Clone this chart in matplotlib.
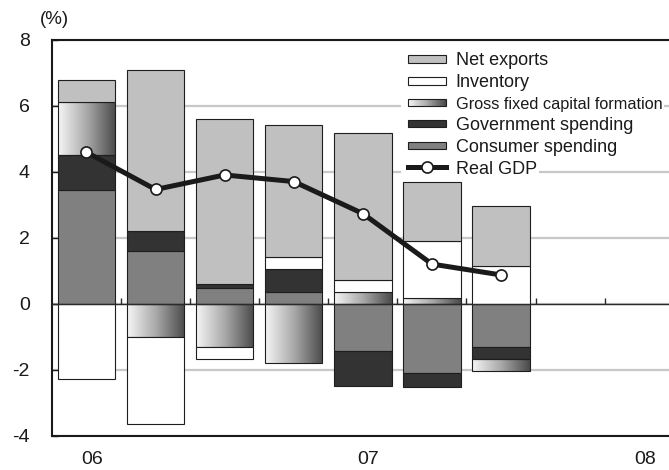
import numpy as np
import matplotlib
matplotlib.use("Agg")
import matplotlib.pyplot as plt
import matplotlib.transforms as mtrans
from matplotlib.colors import LinearSegmentedColormap
from matplotlib.legend_handler import HandlerBase
from matplotlib.patches import Rectangle
from matplotlib.lines import Line2D

plt.rcParams["font.family"] = ["Liberation Sans", "DejaVu Sans"]
plt.rcParams["axes.unicode_minus"] = False

# Contributions to real GDP growth, year-on-year (%), quarterly from 2006 Q1
quarters = ["06Q1", "06Q2", "06Q3", "06Q4", "07Q1", "07Q2", "07Q3"]
consumer = [3.46, 1.60, 0.49, 0.36, -1.41, -2.10, -1.29]
government = [1.05, 0.62, 0.13, 0.69, -1.06, -0.43, -0.38]
gfcf = [1.62, -0.99, -1.30, -1.80, 0.37, 0.19, -0.36]
inventory = [-2.28, -2.65, -0.38, 0.36, 0.36, 1.73, 1.15]
net_exports = [0.67, 4.88, 5.00, 4.02, 4.45, 1.77, 1.82]
real_gdp = [4.60, 3.47, 3.91, 3.71, 2.74, 1.21, 0.88]

year_labels = ["06", "07", "08"]
year_start_index = [0, 4, 8]
n_quarters_axis = 9
y_ticks = [-4, -2, 0, 2, 4, 6, 8]

EDGE = "#1e1e1e"
C_NX = "#c0c0c0"
C_INV = "#ffffff"
C_GOV = "#333333"
C_CONS = "#808080"
gfcf_cmap = LinearSegmentedColormap.from_list("gfcf", ["#f6f6f6", "#a9a9a9", "#4a4a4a"])

fig = plt.figure(figsize=(6.69, 4.70), dpi=100)
ax = fig.add_axes([51.9 / 669, 34 / 470, 621.9 / 669, 396 / 470])

x = np.arange(len(quarters))
bar_w = 0.83

series = [
    ("Consumer spending", consumer, C_CONS),
    ("Government spending", government, C_GOV),
    ("Gross fixed capital formation", gfcf, None),
    ("Inventory", inventory, C_INV),
    ("Net exports", net_exports, C_NX),
]

pos_base = np.zeros(len(x))
neg_base = np.zeros(len(x))
containers = {}
for name, vals, color in series:
    v = np.asarray(vals, dtype=float)
    bottoms = np.where(v >= 0, pos_base, neg_base)
    bars = ax.bar(x, v, width=bar_w, bottom=bottoms,
                  color=color if color else "none",
                  edgecolor=EDGE, linewidth=0.8, zorder=3)
    containers[name] = bars
    pos_base = pos_base + np.where(v > 0, v, 0)
    neg_base = neg_base + np.where(v < 0, v, 0)

# horizontal gradient fill for the capital formation segments
ramp = np.linspace(0, 1, 256).reshape(1, -1)
for patch in containers["Gross fixed capital formation"].patches:
    x0, y0 = patch.get_x(), patch.get_y()
    x1, y1 = x0 + patch.get_width(), y0 + patch.get_height()
    im = ax.imshow(ramp, cmap=gfcf_cmap, aspect="auto", interpolation="bilinear",
                   extent=[x0, x1, min(y0, y1), max(y0, y1)], zorder=2.9)
    im.set_clip_path(patch)

gdp_line, = ax.plot(x, real_gdp, color="#1a1a1a", lw=3.6, marker="o", ms=8,
                    mfc="white", mec="#1a1a1a", mew=1.2, zorder=6)

# zero line with small quarter separators
ax.axhline(0, color="#2a2a2a", lw=1.0, zorder=4)
bounds = np.arange(n_quarters_axis - 1) + 0.5
ax.plot(bounds, np.zeros_like(bounds), linestyle="none", marker=2, ms=4,
        mew=1.0, color="#2a2a2a", zorder=4)

ax.set_xlim(-0.5, n_quarters_axis - 0.5)
ax.set_ylim(-4, 8)

ax.set_yticks(y_ticks)
ax.set_yticklabels([str(t) for t in y_ticks])
ax.tick_params(axis="y", direction="in", length=4, width=1, pad=16,
               labelsize=14, colors="#1a1a1a")
ax.set_xticks(year_start_index)
ax.set_xticklabels(year_labels)
ax.tick_params(axis="x", length=0, pad=11, labelsize=14, colors="#1a1a1a")
shift = mtrans.ScaledTranslation(0.055, 0, fig.dpi_scale_trans)
for lab in ax.get_xticklabels():
    lab.set_transform(lab.get_transform() + shift)

ax.yaxis.grid(True, color="#c8c8c8", lw=1.6)
ax.set_axisbelow(True)
for side in ["left", "top", "bottom"]:
    ax.spines[side].set_color("#1a1a1a")
    ax.spines[side].set_linewidth(1.5)
ax.spines["right"].set_visible(False)

ax.annotate("(%)", xy=(0, 1), xycoords="axes fraction", xytext=(1.5, 14.5),
            textcoords="offset points", ha="center", va="center", fontsize=13.5,
            color="#1a1a1a")


class BoxHandler(HandlerBase):
    def __init__(self, face=None, gradient=False):
        super().__init__()
        self.face = face
        self.gradient = gradient

    def create_artists(self, legend, orig_handle, xdescent, ydescent,
                       width, height, fontsize, trans):
        gap = legend.handletextpad * fontsize
        arts = [Rectangle((-xdescent - 5, -ydescent - 3), width + gap + 7, height + 6,
                          facecolor="white", edgecolor="none", transform=trans)]
        bh = 5.2
        y0 = -ydescent + (height - bh) / 2
        if self.gradient:
            n = 48
            cols = gfcf_cmap(np.linspace(0, 1, n))
            for i, c in enumerate(cols):
                arts.append(Rectangle((-xdescent + width * i / n, y0), width / n * 1.1, bh,
                                      facecolor=c, edgecolor="none", transform=trans))
            arts.append(Rectangle((-xdescent, y0), width, bh, facecolor="none",
                                  edgecolor=EDGE, lw=0.8, transform=trans))
        else:
            arts.append(Rectangle((-xdescent, y0), width, bh, facecolor=self.face,
                                  edgecolor=EDGE, lw=0.8, transform=trans))
        return arts


class LineHandler(HandlerBase):
    def create_artists(self, legend, orig_handle, xdescent, ydescent,
                       width, height, fontsize, trans):
        gap = legend.handletextpad * fontsize
        yc = -ydescent + height / 2
        bg = Rectangle((-xdescent - 5, -ydescent - 3), width + gap + 7, height + 6,
                       facecolor="white", edgecolor="none", transform=trans)
        ln = Line2D([-xdescent, -xdescent + width], [yc, yc], color="#1a1a1a",
                    lw=3.6, transform=trans)
        mk = Line2D([-xdescent + width / 2], [yc], linestyle="none", marker="o",
                    ms=8, mfc="white", mec="#1a1a1a", mew=1.2, transform=trans)
        return [bg, ln, mk]


leg_order = ["Net exports", "Inventory", "Gross fixed capital formation",
             "Government spending", "Consumer spending"]
handles = [containers[k] for k in leg_order] + [gdp_line]
labels = leg_order + ["Real GDP"]
hmap = {
    containers["Net exports"]: BoxHandler(C_NX),
    containers["Inventory"]: BoxHandler(C_INV),
    containers["Gross fixed capital formation"]: BoxHandler(gradient=True),
    containers["Government spending"]: BoxHandler(C_GOV),
    containers["Consumer spending"]: BoxHandler(C_CONS),
    gdp_line: LineHandler(),
}
leg = ax.legend(handles, labels, handler_map=hmap, loc="upper left",
                bbox_to_anchor=((408 - 51.9) / 621.9, (436 - 51) / 396),
                borderaxespad=0, borderpad=0, frameon=False, fontsize=13,
                handlelength=2.1, handleheight=1.0, handletextpad=0.55,
                labelspacing=0.2)
leg.set_zorder(7)
for t in leg.get_texts():
    t.set_color("#1a1a1a")
    t.set_bbox(dict(facecolor="white", edgecolor="none", pad=1.5))
leg.get_texts()[2].set_fontsize(11.7)

fig.savefig("out.png", dpi=100)
